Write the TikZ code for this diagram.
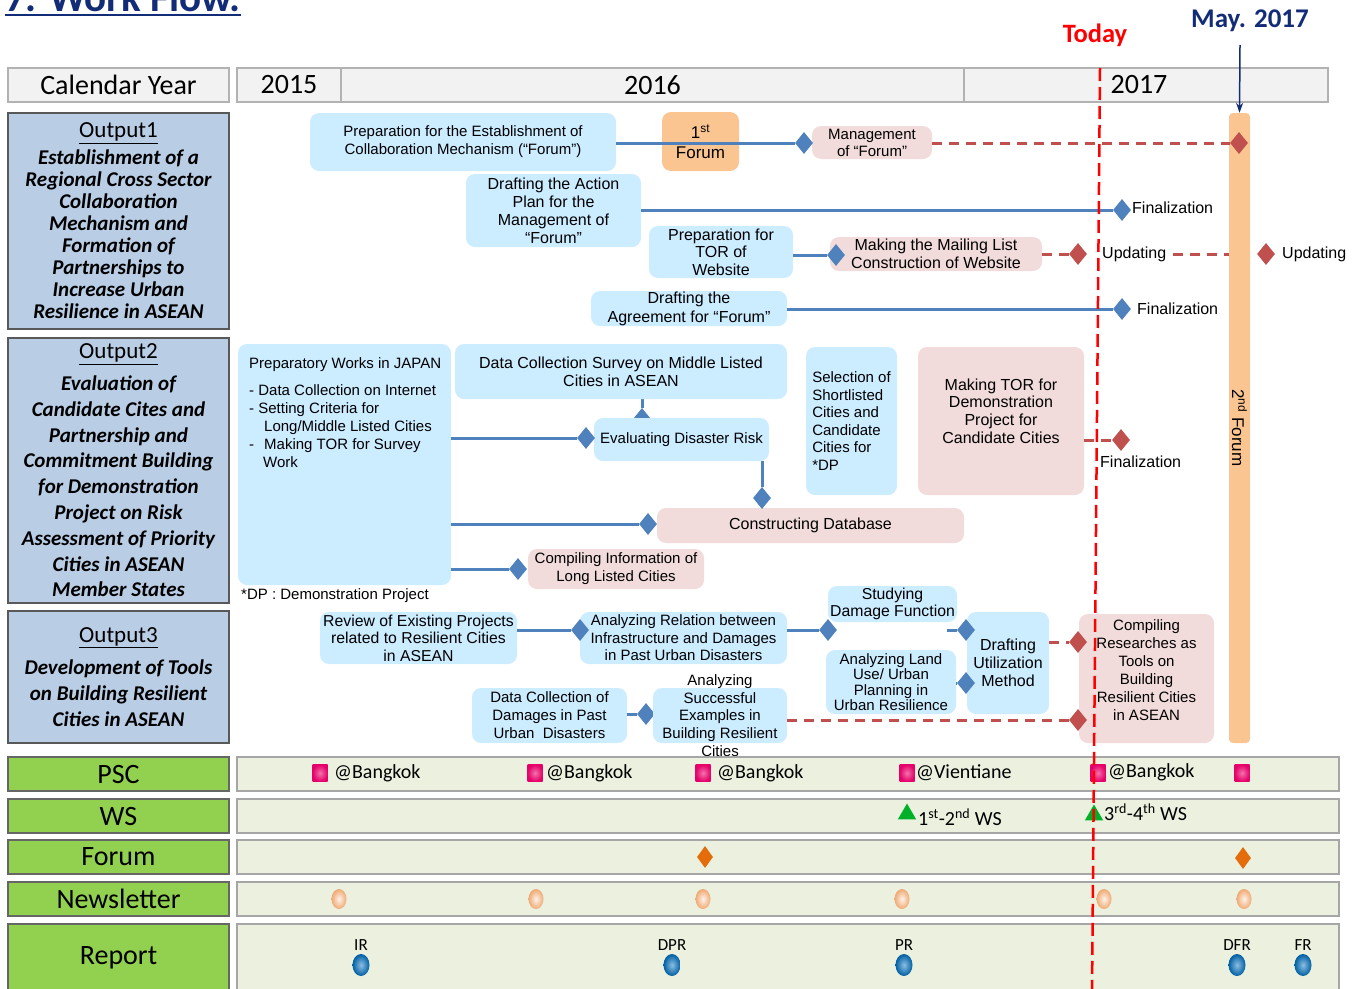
\documentclass[tikz,border=0pt]{standalone}
\usepackage{fontspec}
\setmainfont{Liberation Sans}
\newfontfamily\calib{Carlito}
\usetikzlibrary{shapes.geometric,backgrounds,arrows.meta}
\definecolor{boxblue}{RGB}{204,236,255}
\definecolor{boxpink}{RGB}{242,220,219}
\definecolor{forumorange}{RGB}{251,197,145}
\definecolor{lineblue}{RGB}{79,129,189}
\definecolor{linered}{RGB}{192,80,77}
\definecolor{outfill}{RGB}{185,205,229}
\definecolor{rowgreen}{RGB}{146,208,80}
\definecolor{rowfill}{RGB}{235,241,222}
\definecolor{headfill}{RGB}{242,242,242}
\definecolor{navy}{RGB}{18,44,120}
\definecolor{pscpink}{RGB}{230,0,105}
\definecolor{wsgreen}{RGB}{0,176,40}
\definecolor{dotorange}{RGB}{228,108,10}
\definecolor{peach}{RGB}{240,170,115}
\definecolor{repblue}{RGB}{0,112,192}
\newcommand\otitle[1]{{\calib\mdseries\upshape\fontsize{23}{26}\selectfont\underline{#1}}}

\begin{document}
\begin{tikzpicture}
  [x=1pt,y=-1pt,
   box/.style={rounded corners=9pt,align=center,inner sep=0pt,font=\fontsize{16}{18}\selectfont},
   bluebox/.style={box,fill=boxblue},
   pinkbox/.style={box,fill=boxpink},
   txt/.style={inner sep=0pt,align=center,font=\fontsize{16}{18}\selectfont},
   small/.style={font=\fontsize{15}{18}\selectfont},
   dmd/.style={diamond,fill=lineblue,inner sep=0pt,minimum width=18pt,minimum height=22pt},
   rdmd/.style={dmd,fill=linered},
   link/.style={draw=lineblue,line width=3pt},
   dlink/.style={draw=linered,line width=3pt,dash pattern=on 10pt off 7pt},
   head/.style={draw=gray!60,line width=1.5pt,fill=headfill,inner sep=0pt,minimum height=34pt,font=\calib\fontsize{28}{30}\selectfont},
   outbox/.style={draw=black!65,line width=1.2pt,fill=outfill,minimum width=221pt,inner sep=0pt,align=center},
   rowlab/.style={draw=black!60,line width=1.2pt,fill=rowgreen,minimum width=221pt,inner sep=0pt,font=\calib\fontsize{28}{30}\selectfont},
   rowbox/.style={draw=gray!70,line width=1.5pt,fill=rowfill,minimum width=1102pt,inner sep=0pt},
   evt/.style={anchor=west,inner sep=0pt,font=\calib\fontsize{20}{22}\selectfont},
   rep/.style={inner sep=0pt,font=\calib\fontsize{17}{18}\selectfont}]
  \useasboundingbox (0,0) rectangle (1356,988);

  % title and markers of time
  \node[anchor=base west,inner sep=0pt,text=navy,font=\calib\bfseries\fontsize{41}{44}\selectfont] (ttl) at (5,11) {7. Work Flow.};
  \draw[navy,line width=2.5pt] ([yshift=-4pt]ttl.base west) -- ([yshift=-4pt]ttl.base east);
  \node[text=red,font=\calib\bfseries\fontsize{26.5}{30}\selectfont] (today) at (1095,35) {Today};
  \node[text=navy,font=\calib\bfseries\fontsize{27}{30}\selectfont] (may) at (1250,21) {May. 2017};

  % calendar
  \node[head,minimum width=221pt] (cal) at (118.5,85) {Calendar Year};
  \node[head,minimum width=104pt] (y15) at (289,85) {2015};
  \node[head,minimum width=623pt] (y16) at (652.5,85) {2016};
  \node[head,minimum width=364pt] (y17) at (1146,85) {\hspace*{-14pt}2017};

  % outputs
  \node[outbox,minimum height=216pt,font=\calib\bfseries\itshape\fontsize{21}{22}\selectfont] (o1) at (118.5,221)
    {\otitle{Output1}\\[5pt]Establishment of a\\Regional Cross Sector\\Collaboration\\Mechanism and\\Formation of\\Partnerships to\\Increase Urban\\Resilience in ASEAN};
  \node[outbox,minimum height=265pt,font=\calib\bfseries\itshape\fontsize{21}{25.8}\selectfont] (o2) at (118.5,470.5)
    {\otitle{Output2}\\[6pt]Evaluation of\\Candidate Cites and\\Partnership and\\Commitment Building\\for Demonstration\\Project on Risk\\Assessment of Priority\\Cities in ASEAN\\Member States};
  \node[outbox,minimum height=132pt,font=\calib\bfseries\itshape\fontsize{21}{26}\selectfont] (o3) at (118.5,677)
    {\otitle{Output3}\\[6pt]Development of Tools\\on Building Resilient\\Cities in ASEAN};

  % 2nd forum bar
  \node[fill=forumorange,rounded corners=4pt,minimum width=21pt,minimum height=630pt,inner sep=0pt] (bar) at (1239.5,428) {};
  \node[rotate=-90,inner sep=0pt,font=\fontsize{17}{20}\selectfont] (bart) at (1239.5,428) {2\textsuperscript{nd} Forum};
  \coordinate (mtip) at (1240,45);
  \draw[-{Stealth[length=10pt,width=7pt]},navy,line width=1.5pt] (mtip) -- (bar.north);

  % output1
  \node[bluebox,small,minimum width=306pt,minimum height=58pt] (a1) at (463,142) {Preparation for the Establishment of\\Collaboration Mechanism (“Forum”)};
  \node[box,fill=forumorange,minimum width=77pt,minimum height=59pt,font=\fontsize{17}{20}\selectfont] (f1) at (700.5,141.5) {1\textsuperscript{st}\\Forum};
  \node[pinkbox,minimum width=120pt,minimum height=33pt,font=\fontsize{15}{17}\selectfont] (m1) at (872,142.5) {Management\\of “Forum”};
  \node[dmd] (d1) at (804,143) {};
  \node[rdmd] (r1) at (1239,143) {};
  \node[bluebox,minimum width=175pt,minimum height=73pt] (a2) at (553.5,210.5) {Drafting the Action\\Plan for the\\Management of\\“Forum”};
  \node[dmd] (d2) at (1122,210) {};
  \node[txt,anchor=west] (fin1) at (1132,208) {Finalization};
  \node[bluebox,minimum width=144pt,minimum height=52pt,font=\fontsize{16}{17.5}\selectfont] (a3) at (721,252) {Preparation for\\TOR of\\Website};
  \node[pinkbox,minimum width=212pt,minimum height=34pt,font=\fontsize{16}{17.5}\selectfont] (m3) at (936,254) {Making the Mailing List\\Construction of Website};
  \node[dmd] (d3) at (836,255) {};
  \node[rdmd] (r3) at (1078,254) {};
  \node[txt,anchor=west] (u1) at (1102,254) {Updating};
  \node[rdmd] (r4) at (1266,254) {};
  \node[txt,anchor=west] (u2) at (1282,254) {Updating};
  \node[bluebox,minimum width=196pt,minimum height=35pt,font=\fontsize{16}{19}\selectfont] (a4) at (689,308.5) {Drafting the\\Agreement for “Forum”};
  \node[dmd] (d4) at (1122,309) {};
  \node[txt,anchor=west] (fin2) at (1137,309) {Finalization};

  % output2
  \node[bluebox,minimum width=332pt,minimum height=55pt] (b2) at (621,371.5) {Data Collection Survey on Middle Listed\\Cities in ASEAN};
  \begin{pgfonlayer}{background}
    \node[dmd] (d5) at (642,419) {};
    \draw[link] (b2.south -| d5) -- (d5);
  \end{pgfonlayer}
  \node[bluebox,minimum width=213pt,minimum height=241pt] (b1) at (344.5,464.5) {};
  \node[txt,small,anchor=north west,align=left] (b1t) at (249,357) {Preparatory Works in JAPAN\\[9pt]- Data Collection on Internet\\- Setting Criteria for\\\hspace*{15pt}Long/Middle Listed Cities\\-\hspace*{10pt}Making TOR for Survey\\\hspace*{14pt}Work};
  \node[bluebox,small,minimum width=175pt,minimum height=43pt] (b3) at (681.5,439.5) {Evaluating Disaster Risk};
  \node[dmd] (d6) at (586,438) {};
  \node[pinkbox,minimum width=307pt,minimum height=35pt] (b4) at (810.5,525.5) {Constructing Database};
  \node[dmd] (d7) at (762,498) {};
  \node[dmd] (d8) at (648,524) {};
  \node[pinkbox,small,minimum width=176pt,minimum height=40pt] (b5) at (616,569) {Compiling Information of\\Long Listed Cities};
  \node[dmd] (d9) at (518,569) {};
  \node[txt,small,anchor=west] (dp) at (241,596) {*DP : Demonstration Project};
  \node[bluebox,minimum width=91pt,minimum height=148pt,align=left,font=\fontsize{15}{17.6}\selectfont] (b6) at (851.5,421) {Selection of\\Shortlisted\\Cities and\\Candidate\\Cities for\\*DP};
  \node[pinkbox,minimum width=166pt,minimum height=148pt] (b7) at (1001,421) {};
  \node[txt,font=\fontsize{16}{17.6}\selectfont] (b7t) at (1001,411) {Making TOR for\\Demonstration\\Project for\\Candidate Cities};
  \node[rdmd] (r5) at (1121,440) {};
  \node[txt,anchor=west] (fin3) at (1100,462) {Finalization};

  % output3
  \node[bluebox,minimum width=197pt,minimum height=52pt,font=\fontsize{15.8}{17.5}\selectfont] (c1) at (418.5,638) {Review of Existing Projects\\related to Resilient Cities\\in ASEAN};
  \node[bluebox,minimum width=207pt,minimum height=52pt,font=\fontsize{15}{17.5}\selectfont] (c2) at (683.5,638) {Analyzing Relation between\\Infrastructure and Damages\\in Past Urban Disasters};
  \node[dmd] (d10) at (580,630) {};
  \node[bluebox,minimum width=129pt,minimum height=36pt,font=\fontsize{15.8}{17}\selectfont] (c3) at (892.5,604) {Studying\\Damage Function};
  \node[dmd] (d11) at (828,630) {};
  \node[bluebox,minimum width=82pt,minimum height=102pt] (c4) at (1008,663) {Drafting\\Utilization\\Method};
  \coordinate (s1) at (947,630);
  \node[dmd] (d12) at (966,630) {};
  \node[bluebox,minimum width=130pt,minimum height=64pt,font=\fontsize{15}{15.5}\selectfont] (c5) at (891,682) {Analyzing Land\\Use/ Urban\\Planning in\\Urban Resilience};
  \node[dmd] (d13) at (966,683) {};
  \node[pinkbox,minimum width=135pt,minimum height=129pt] (c6) at (1146.5,678.5) {};
  \node[txt,small] (c6t) at (1146.5,670) {Compiling\\Researches as\\Tools on\\Building\\Resilient Cities\\in ASEAN};
  \node[rdmd] (r6) at (1078,642) {};
  \node[bluebox,small,minimum width=155pt,minimum height=55pt] (c7) at (549.5,715.5) {Data Collection of\\Damages in Past\\Urban\ \ Disasters};
  \node[dmd] (d14) at (646,714) {};
  \node[bluebox,minimum width=134pt,minimum height=55pt] (c8) at (720,715.5) {};
  \node[txt,font=\fontsize{15}{17.75}\selectfont] (c8t) at (720,715.5) {Analyzing\\Successful\\Examples in\\Building Resilient\\Cities};
  \node[rdmd] (r7) at (1078,720) {};

  % connectors
  \draw[link] (a1.east |- d1) -- (d1);
  \draw[dlink] (m1.east |- r1) -- (r1);
  \draw[link] (a2.east |- d2) -- (d2);
  \draw[link] (a3.east |- d3) -- (d3);
  \draw[dlink] (m3.east |- r3) -- (r3);
  \draw[dlink] ([xshift=7pt]u1.east) -- (bar.west |- u1);
  \draw[link] (a4.east |- d4) -- (d4);
  \draw[link] (b1.east |- d6) -- (d6);
  \draw[link] (b3.south -| d7) -- (d7);
  \draw[link] (b1.east |- d8) -- (d8);
  \draw[link] (b1.east |- d9) -- (d9);
  \draw[dlink] (b7.east |- r5) -- (r5);
  \draw[link] (c1.east |- d10) -- (d10);
  \draw[link] (c2.east |- d11) -- (d11);
  \draw[link] (s1) -- (d12);
  \draw[link] (c5.east |- d13) -- (d13);
  \draw[dlink] (c4.east |- r6) -- (r6);
  \draw[link] (c7.east |- d14) -- (d14);
  \draw[dlink] (c8.east |- r7) -- (r7);

  % rows below
  \node[rowlab,minimum height=34pt] (psc) at (118.5,774) {PSC};
  \node[rowbox,minimum height=34pt] (pscr) at (788,774) {};
  \node[rowlab,minimum height=34pt] (ws) at (118.5,816) {WS};
  \node[rowbox,minimum height=34pt] (wsr) at (788,816) {};
  \node[rowlab,minimum height=34pt] (frm) at (118.5,857) {Forum};
  \node[rowbox,minimum height=34pt] (frmr) at (788,857) {};
  \node[rowlab,minimum height=34pt] (nl) at (118.5,899) {Newsletter};
  \node[rowbox,minimum height=34pt] (nlr) at (788,899) {};
  \node[rowlab,minimum height=68pt] (rp) at (118.5,958) {Report};
  \node[rowbox,minimum height=68pt] (rpr) at (788,958) {};

  \foreach \x in {320,535,703,907,1098,1242}
    \node[inner color=pscpink!55!white,outer color=pscpink,minimum width=15pt,minimum height=17pt,inner sep=0pt] (p\x) at (\x,773) {};
  \node[evt] (l1) at (334,773) {@Bangkok};
  \node[evt] (l2) at (546,773) {@Bangkok};
  \node[evt] (l3) at (717,773) {@Bangkok};
  \node[evt] (l4) at (916,773) {@Vientiane};
  \node[evt] (l5) at (1108,772) {@Bangkok};

  \foreach \x/\y in {907/814,1094/815}
    \node[regular polygon,regular polygon sides=3,fill=wsgreen,minimum size=21pt,inner sep=0pt] (w\x) at (\x,\y) {};
  \node[evt] (l6) at (918,817) {1\textsuperscript{st}-2\textsuperscript{nd} WS};
  \node[evt] (l7) at (1104,812) {3\textsuperscript{rd}-4\textsuperscript{th} WS};

  \foreach \x/\y in {705/857,1243/858}
    \node[diamond,fill=dotorange,minimum width=16pt,minimum height=22pt,inner sep=0pt] (g\x) at (\x,\y) {};

  \foreach \x in {339,536,703,902,1104,1244}
    \node[ellipse,inner color=white!85!peach,outer color=peach,minimum width=15pt,minimum height=20pt,inner sep=0pt] (n\x) at (\x,899) {};

  \foreach \x/\t in {361/IR,672/DPR,904/PR,1237/DFR,1303/FR}{
    \node[ellipse,inner color=repblue!45!white,outer color=repblue!85!black,minimum width=17pt,minimum height=22pt,inner sep=0pt] (r\x) at (\x,965) {};
    \node[rep] (t\x) at (\x,945) {\t};
  }

  % today line
  \coordinate (t1) at (1100,68);
  \coordinate (t2) at (1092,992);
  \draw[red,line width=2.5pt,dash pattern=on 13pt off 6pt] (t1) -- (t2);
\end{tikzpicture}
\end{document}
